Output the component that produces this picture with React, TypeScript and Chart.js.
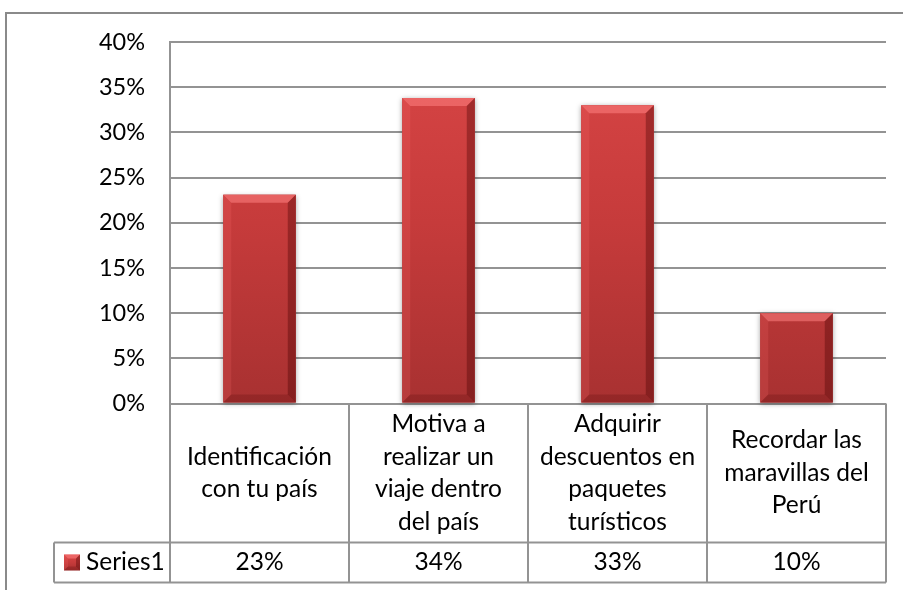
import React, { useEffect, useRef } from "react";
import { Chart, registerables } from "chart.js";

Chart.register(...registerables);

// ---- data ----
const categories: string[][] = [
  ["Identificación", "con tu país"],
  ["Motiva a", "realizar un", "viaje dentro", "del país"],
  ["Adquirir", "descuentos en", "paquetes", "turísticos"],
  ["Recordar las", "maravillas del", "Perú"],
];
const seriesName = "Series1";
const values = [0.231, 0.338, 0.33, 0.1];
const yMin = 0;
const yMax = 0.4;
const yStep = 0.05;

// ---- style ----
const FONT_FAMILY = "Lato, 'Liberation Sans', sans-serif";
const FONT_SIZE = 24.5;
const TICK_FONT_SIZE = 23.5;
const TEXT_COLOR = "#000000";
const LINE_COLOR = "#939393";
const HEADER_ROW_H = 139;
const VALUE_ROW_H = 40;
const LINE_H = 32.5;
const LEGEND_LEFT = 54;

const pct = (v: number) => `${Math.round(v * 100)}%`;

function barGradient(ctx: CanvasRenderingContext2D, top: number, bottom: number) {
  const g = ctx.createLinearGradient(0, top, 0, bottom);
  g.addColorStop(0, "#d94646");
  g.addColorStop(0.5, "#c63b3b");
  g.addColorStop(1, "#a83131");
  return g;
}

function drawBevel(ctx: CanvasRenderingContext2D, l: number, t: number, r: number, b: number, bv: number) {
  ctx.fillStyle = "rgba(255,130,130,0.55)";
  ctx.beginPath();
  ctx.moveTo(l, t); ctx.lineTo(r, t); ctx.lineTo(r - bv, t + bv); ctx.lineTo(l + bv, t + bv); ctx.closePath(); ctx.fill();
  ctx.fillStyle = "rgba(255,110,110,0.18)";
  ctx.beginPath();
  ctx.moveTo(l, t); ctx.lineTo(l + bv, t + bv); ctx.lineTo(l + bv, b - bv); ctx.lineTo(l, b); ctx.closePath(); ctx.fill();
  ctx.fillStyle = "rgba(70,0,0,0.35)";
  ctx.beginPath();
  ctx.moveTo(r, t); ctx.lineTo(r, b); ctx.lineTo(r - bv, b - bv); ctx.lineTo(r - bv, t + bv); ctx.closePath(); ctx.fill();
  ctx.fillStyle = "rgba(70,0,0,0.2)";
  ctx.beginPath();
  ctx.moveTo(l, b); ctx.lineTo(r, b); ctx.lineTo(r - bv, b - bv); ctx.lineTo(l + bv, b - bv); ctx.closePath(); ctx.fill();
}

const framePlugin = {
  id: "frame",
  beforeDraw(chart: any) {
    const ctx = chart.ctx as CanvasRenderingContext2D;
    ctx.save();
    ctx.fillStyle = "#ffffff";
    ctx.fillRect(0, 0, chart.width, chart.height);
    ctx.strokeStyle = "#8a8a8a";
    ctx.lineWidth = 2;
    ctx.strokeRect(6, 13, chart.width + 20, chart.height + 20);
    ctx.restore();
  },
  beforeDatasetsDraw(chart: any) {
    const ctx = chart.ctx as CanvasRenderingContext2D;
    const meta = chart.getDatasetMeta(0);
    ctx.save();
    meta.data.forEach((el: any) => {
      const { x, y, base, width } = el.getProps(["x", "y", "base", "width"], true);
      ctx.shadowColor = "rgba(0,0,0,0.35)";
      ctx.shadowBlur = 5;
      ctx.shadowOffsetX = 0;
      ctx.shadowOffsetY = 1;
      ctx.fillStyle = "#b03434";
      ctx.fillRect(x - width / 2, y, width, base - y);
    });
    ctx.restore();
  },
  afterDatasetsDraw(chart: any) {
    const ctx = chart.ctx as CanvasRenderingContext2D;
    const meta = chart.getDatasetMeta(0);
    ctx.save();
    meta.data.forEach((el: any) => {
      const { x, y, base, width } = el.getProps(["x", "y", "base", "width"], true);
      drawBevel(ctx, x - width / 2, y, x + width / 2, base, 8);
    });
    ctx.restore();
  },
  afterDraw(chart: any) {
    const ctx = chart.ctx as CanvasRenderingContext2D;
    const area = chart.chartArea;
    const xs = chart.scales.x;
    const n = categories.length;
    const catW = xs.width / n;
    const top = area.bottom;
    const y1 = top + HEADER_ROW_H;
    const y2 = y1 + VALUE_ROW_H;
    ctx.save();
    ctx.strokeStyle = LINE_COLOR;
    ctx.lineWidth = 2;
    ctx.beginPath();
    for (let i = 0; i <= n; i++) {
      const bx = Math.round(area.left + i * catW);
      ctx.moveTo(bx, top);
      ctx.lineTo(bx, y2);
    }
    ctx.moveTo(LEGEND_LEFT, y1);
    ctx.lineTo(area.right, y1);
    ctx.moveTo(LEGEND_LEFT, y2);
    ctx.lineTo(area.right, y2);
    ctx.moveTo(LEGEND_LEFT, y1);
    ctx.lineTo(LEGEND_LEFT, y2);
    ctx.stroke();

    ctx.fillStyle = TEXT_COLOR;
    ctx.font = `${FONT_SIZE}px ${FONT_FAMILY}`;
    ctx.textAlign = "center";
    ctx.textBaseline = "middle";
    const midH = (top + y1) / 2;
    const midV = (y1 + y2) / 2;
    categories.forEach((lines, i) => {
      const cx = xs.getPixelForValue(i);
      lines.forEach((ln, j) => {
        ctx.fillText(ln, cx, midH + (j - (lines.length - 1) / 2) * LINE_H);
      });
      ctx.fillText(pct(values[i]), cx, midV);
    });

    const ks = 16;
    const kx = LEGEND_LEFT + 10;
    const ky = midV - ks / 2;
    ctx.fillStyle = barGradient(ctx, ky, ky + ks);
    ctx.fillRect(kx, ky, ks, ks);
    drawBevel(ctx, kx, ky, kx + ks, ky + ks, 4);
    ctx.fillStyle = TEXT_COLOR;
    ctx.textAlign = "left";
    ctx.fillText(seriesName, kx + ks + 6, midV);
    ctx.restore();
  },
};

export default function App() {
  const ref = useRef<HTMLCanvasElement | null>(null);
  useEffect(() => {
    if (!ref.current) return;
    const chart = new Chart(ref.current, {
      type: "bar",
      data: {
        labels: categories.map((c) => c.join(" ")),
        datasets: [
          {
            label: seriesName,
            data: values,
            backgroundColor: (c: any) => {
              const a = c.chart.chartArea;
              if (!a) return "#c63b3b";
              const el = c.element;
              const top = el && el.y != null ? el.y : a.top;
              return barGradient(c.chart.ctx, top, a.bottom);
            },
            borderWidth: 0,
            barPercentage: 0.405,
            categoryPercentage: 1,
          },
        ],
      },
      options: {
        responsive: false,
        animation: false,
        layout: { padding: { left: 0, top: 42, right: 17, bottom: 186.5 } },
        plugins: { legend: { display: false }, tooltip: { enabled: false } },
        scales: {
          x: { display: false, offset: true },
          y: {
            min: yMin,
            max: yMax,
            ticks: {
              stepSize: yStep,
              callback: (v: any) => pct(Number(v)),
              color: TEXT_COLOR,
              font: { family: FONT_FAMILY, size: TICK_FONT_SIZE },
              padding: 25,
            },
            grid: { color: LINE_COLOR, lineWidth: 2, drawTicks: false },
            border: { display: true, color: LINE_COLOR, width: 2 },
            afterFit: (s: any) => {
              s.width = 170;
            },
          },
        },
      },
      plugins: [framePlugin],
    });
    return () => chart.destroy();
  }, []);
  return (
    <div style={{ position: "fixed", left: 0, top: 0, width: 903, height: 590 }}>
      <canvas ref={ref} width={903} height={590} style={{ width: 903, height: 590 }} />
    </div>
  );
}
